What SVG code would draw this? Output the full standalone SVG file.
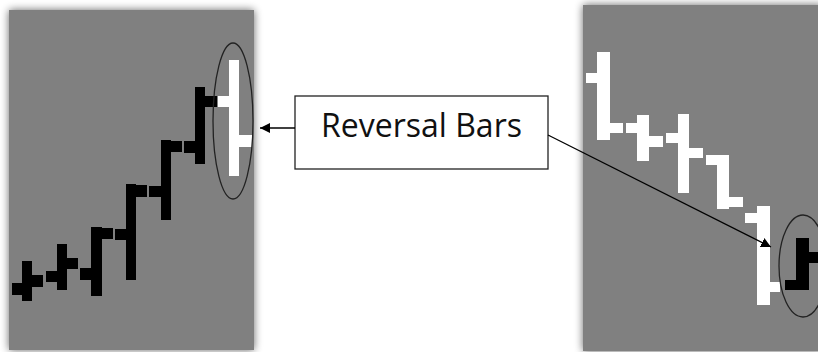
<svg xmlns="http://www.w3.org/2000/svg" width="818" height="352" viewBox="0 0 818 352">
<defs>
<filter id="sh" x="-10%" y="-10%" width="120%" height="120%">
<feGaussianBlur in="SourceAlpha" stdDeviation="4"/>
<feOffset dx="0" dy="0"/>
<feComponentTransfer><feFuncA type="linear" slope="0.6"/></feComponentTransfer>
<feMerge><feMergeNode/><feMergeNode in="SourceGraphic"/></feMerge>
</filter>
<marker id="ah" viewBox="0 0 10 10" refX="10" refY="5" markerWidth="10" markerHeight="10" markerUnits="userSpaceOnUse" orient="auto">
<path d="M0,0 L10,5 L0,10 Z" fill="#000"/>
</marker>
<style>
.panel{fill:#808080;}
.blk{fill:#000;}
.wht{fill:#fff;}
.ell{fill:none;stroke:#222;stroke-width:1.3;}
.conn{fill:none;stroke:#000;stroke-width:1.3;marker-end:url(#ah);}
.lbl{font-family:"Open Sans","Liberation Sans",sans-serif;font-size:32px;fill:#111;}
</style>
</defs>
<rect width="818" height="352" fill="#fff"/>
<g id="left-chart">
<rect class="panel" x="9" y="10" width="245" height="340" filter="url(#sh)"/>
<g class="blk">
<rect x="22" y="261" width="10" height="40"/><rect x="12" y="283" width="10" height="12"/><rect x="32" y="275" width="11" height="12"/>
<rect x="57" y="244" width="10" height="46"/><rect x="46" y="271" width="11" height="11"/><rect x="67" y="258" width="11" height="11"/>
<rect x="91" y="227" width="11" height="69"/><rect x="80" y="268" width="11" height="12"/><rect x="102" y="228" width="11" height="11"/>
<rect x="126" y="184" width="10" height="96"/><rect x="115" y="229" width="11" height="11"/><rect x="136" y="185" width="11" height="12"/>
<rect x="161" y="140" width="10" height="80"/><rect x="149" y="186" width="12" height="11"/><rect x="171" y="141" width="11" height="11"/>
<rect x="195" y="87" width="10" height="77"/><rect x="184" y="141" width="11" height="12"/><rect x="205" y="96" width="12" height="11"/>
</g>
<g class="wht">
<rect x="229" y="60" width="10" height="116"/><rect x="218" y="96" width="11" height="11"/><rect x="239" y="135" width="13" height="12"/>
</g>
<ellipse class="ell" cx="233" cy="121" rx="20" ry="78"/>
</g>
<g id="right-chart">
<rect class="panel" x="583" y="5" width="240" height="346" filter="url(#sh)"/>
<g class="wht">
<rect x="597" y="52" width="13" height="88"/><rect x="586" y="73" width="11" height="10"/><rect x="610" y="123" width="13" height="10"/>
<rect x="637" y="115" width="12" height="46"/><rect x="626" y="123" width="11" height="10"/><rect x="649" y="136" width="14" height="11"/>
<rect x="678" y="114" width="11" height="79"/><rect x="666" y="133" width="12" height="10"/><rect x="689" y="148" width="14" height="10"/>
<rect x="717" y="155" width="12" height="54"/><rect x="706" y="155" width="11" height="10"/><rect x="729" y="197" width="14" height="10"/>
<rect x="757" y="206" width="13" height="99"/><rect x="745" y="213" width="12" height="10"/><rect x="770" y="282" width="10" height="10"/>
</g>
<g class="blk">
<rect x="796" y="238" width="13" height="52"/><rect x="785" y="280" width="11" height="10"/><rect x="809" y="252" width="9" height="11"/>
</g>
<ellipse class="ell" cx="803" cy="266" rx="24" ry="51"/>
</g>
<g id="label">
<rect x="295" y="96" width="253" height="73" fill="#fff" stroke="#222" stroke-width="1.3"/>
<text class="lbl" x="421.5" y="137" text-anchor="middle">Reversal Bars</text>
</g>
<g id="connectors">
<line class="conn" x1="295" y1="128" x2="260" y2="128"/>
<line class="conn" x1="548" y1="135" x2="771" y2="247"/>
</g>
</svg>
